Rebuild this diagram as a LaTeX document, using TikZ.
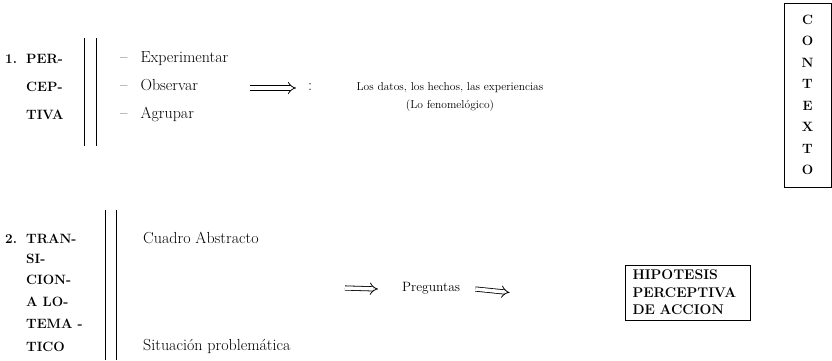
\documentclass[tikz,border=0pt]{standalone}
\usepackage{fontspec}
\usepackage{tikz}
\usetikzlibrary{positioning, arrows.meta}
\tikzset{>=latex}
\tikzset{
    etapa/.style = {anchor=west, inner sep=0pt, text height=0.7em, text depth=0.1em,
                        font=\fontsize{13.5}{17}\selectfont\bfseries},
    txt/.style = {anchor=west, inner sep=0pt, text height=0.7em, text depth=0.2em,
                        font=\fontsize{16}{18}\selectfont},
    datos/.style = {inner sep=0pt, font=\fontsize{11.5}{14}\selectfont},
    caja/.style = {rectangle, draw, thick, inner sep=0pt},
    barra/.style = {line width=1pt},
    flecha/.style = {line width=0.8pt, double, double distance=3.5pt, -{Implies}}
}

\begin{document}
\begin{tikzpicture}[x=1pt, y=-1pt]
		\useasboundingbox (0,0) rectangle (832,360);
		% 1. perceptiva
		\node (uno) [etapa] at (5,60) {1.};
		\node (per) [etapa] at (26,60) {PER-};
		\node (cep) [etapa] at (26,88) {CEP-};
		\node (tiva) [etapa] at (26,116) {TIVA};
		\draw [barra] (84,38) -- (84,146);
		\draw [barra] (96,38) -- (96,146);
		\node (exp) [txt] at (120,60) {--\hspace{13pt}Experimentar};
		\node (obs) [txt] at (120,88) {--\hspace{13pt}Observar};
		\node (agr) [txt] at (120,116) {--\hspace{13pt}Agrupar};
		\node (dos) [txt] at (308,88) {:};
		\coordinate (ini1) at (250,88);
		\draw [flecha] (ini1) -- ([xshift=-12pt]dos.west);
		\node (datos) [datos] at (450,88) {Los datos, los hechos, las experiencias};
		\node (feno) [datos] at (450,106) {(Lo fenomelógico)};
		% contexto
		\node (ctx) [caja, minimum width=47pt, minimum height=184pt, align=center,
			font=\fontsize{13.5}{21.5}\selectfont\bfseries] at (807.5,95)
			{C\\O\\N\\T\\E\\X\\T\\O};
		% 2. transicion
		\node (dosn) [etapa] at (5,240) {2.};
		\node (tran) [etapa] at (26,240) {TRAN-};
		\node (si) [etapa] at (26,260) {SI-};
		\node (cion) [etapa] at (26,281) {CION-};
		\node (alo) [etapa] at (26,303) {A LO-};
		\node (tema) [etapa] at (26,325) {TEMA -};
		\node (tico) [etapa] at (26,348) {TICO};
		\draw [barra] (105,210) -- (105,360);
		\draw [barra] (116,210) -- (116,360);
		\node (cuadro) [txt] at (143,241) {Cuadro Abstracto};
		\node (sit) [txt] at (143,348) {Situación problemática};
		\coordinate (ini2) at (345,288);
		\node (preg) [txt, font=\fontsize{13.5}{15}\selectfont] at (402,289) {Preguntas};
		\draw [flecha] (ini2) -- ([xshift=-24pt]preg.west);
		\node (hip) [caja, minimum width=125pt, minimum height=55pt, align=left,
			text width=110pt, font=\fontsize{14}{17.5}\selectfont\bfseries] at (687.5,292.5)
			{HIPOTESIS\\PERCEPTIVA\\DE ACCION};
		\draw [flecha] ([xshift=15pt]preg.east) -- ([xshift=-115pt]hip.west);
	\end{tikzpicture}
\end{document}
